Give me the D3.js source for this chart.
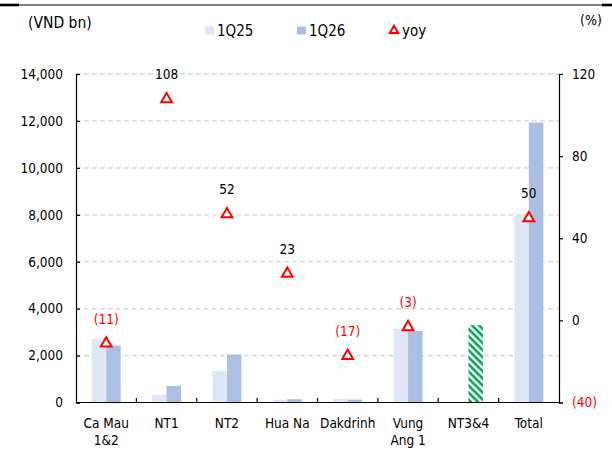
<!DOCTYPE html>
<html>
<head>
<meta charset="utf-8">
<script src="https://cdn.jsdelivr.net/npm/d3@7"></script>
<style>
  html, body { margin: 0; padding: 0; background: #fff; }
  svg { display: block; }
  text { font-family: 'DejaVu Sans Condensed', 'DejaVu Sans', sans-serif; }
</style>
</head>
<body>
<svg id="chart" width="612" height="459"></svg>
<script>
// Plant names (two-line labels split with "\n")
const categories = ["Ca Mau\n1&2", "NT1", "NT2", "Hua Na", "Dakdrinh", "Vung\nAng 1", "NT3&4", "Total"];
// Revenue, VND bn
const q1_25 = [2720, 340, 1350, 115, 150, 3140, null, 7950];
const q1_26 = [2430, 707, 2050, 141, 125, 3050, 3295, 11930];
// Year-on-year change, %
const yoy = [-11, 108, 52, 23, -17, -3, null, 50];
// Axis ticks
const leftTicks = [0, 2000, 4000, 6000, 8000, 10000, 12000, 14000];
const rightTicks = [-40, 0, 40, 80, 120];
const seriesNames = ["1Q25", "1Q26", "yoy"];
// Bars of newly consolidated plants drawn with a hatched fill
const hatched = ["NT3&4"];

const svg = d3.select("#chart");
const W = 612, H = 459;
const plot = { left: 76, right: 559, top: 74, bottom: 402.5 };

const col25 = "#dfe6f5", col26 = "#abbfe3", red = "#ff0000", green = "#00a650";

const x = d3.scaleBand().domain(categories).range([plot.left, plot.right]).padding(0);
const barW = 14.5;
const xSub = d3.scaleBand().domain(["1Q25", "1Q26"]).range([-barW, barW]).padding(0);
const yL = d3.scaleLinear().domain([0, 14000]).range([plot.bottom, plot.top]);
const yR = d3.scaleLinear().domain([-40, 120]).range([plot.bottom, plot.top]);

// hatch pattern (stripes running down to the right)
const defs = svg.append("defs");
const pat = defs.append("pattern").attr("id", "hatch").attr("patternUnits", "userSpaceOnUse")
  .attr("width", 5).attr("height", 5).attr("patternTransform", "rotate(45)");
pat.append("rect").attr("width", 5).attr("height", 5).attr("fill", "#fff");
pat.append("rect").attr("x", 0).attr("y", 0).attr("width", 5).attr("height", 2.6).attr("fill", green);

// top rule
svg.append("line").attr("x1", 0).attr("x2", W).attr("y1", 5).attr("y2", 5)
  .attr("stroke", "#000").attr("stroke-width", 1.2);
svg.append("line").attr("x1", 0).attr("x2", 19).attr("y1", 5).attr("y2", 5)
  .attr("stroke", "#000").attr("stroke-width", 2.6);
svg.append("line").attr("x1", 602).attr("x2", W).attr("y1", 5).attr("y2", 5)
  .attr("stroke", "#000").attr("stroke-width", 2.6);

// gridlines
svg.append("g").selectAll("line").data(leftTicks.filter(d => d > 0)).join("line")
  .attr("x1", plot.left).attr("x2", plot.right)
  .attr("y1", d => yL(d)).attr("y2", d => yL(d))
  .attr("stroke", "#d4d4d4").attr("stroke-width", 1.3).attr("stroke-dasharray", "5,3");

// bars
const rows = categories.map((c, i) => ({ c, v25: q1_25[i], v26: q1_26[i], yoy: yoy[i] }));
const g = svg.append("g");
rows.forEach(r => {
  const cx = x(r.c) + x.bandwidth() / 2;
  if (r.v25 != null) {
    g.append("rect").attr("x", cx + xSub("1Q25")).attr("width", xSub.bandwidth())
      .attr("y", yL(r.v25)).attr("height", yL(0) - yL(r.v25)).attr("fill", col25);
  }
  if (r.v26 != null) {
    g.append("rect").attr("x", cx + xSub("1Q26")).attr("width", xSub.bandwidth())
      .attr("y", yL(r.v26)).attr("height", yL(0) - yL(r.v26))
      .attr("fill", hatched.includes(r.c) ? "url(#hatch)" : col26);
  }
});

// axes
const axL = svg.append("g").attr("transform", `translate(${plot.left},0)`)
  .call(d3.axisLeft(yL).tickValues(leftTicks).tickSize(-4).tickPadding(13).tickFormat(d3.format(",")));
const axR = svg.append("g").attr("transform", `translate(${plot.right},0)`)
  .call(d3.axisRight(yR).tickValues(rightTicks).tickSize(4).tickPadding(9)
    .tickFormat(d => d < 0 ? `(${Math.abs(d)})` : d));
const axB = svg.append("g").attr("transform", `translate(0,${plot.bottom})`)
  .call(d3.axisBottom(x).tickSize(0).tickFormat(""));
[axL, axR, axB].forEach(a => {
  a.select(".domain").attr("stroke", "#000").attr("stroke-width", 1.2);
  a.selectAll(".tick line").attr("stroke", "#000").attr("stroke-width", 1.2);
  a.selectAll("text").attr("font-size", 13.5).attr("fill", "#000")
    .style("font-family", "'DejaVu Sans Condensed', 'DejaVu Sans', sans-serif");
});
axR.selectAll(".tick text").attr("fill", d => d < 0 ? red : "#000");
// bottom axis: domain only between the two value axes, ticks between categories pointing up
axB.select(".domain").attr("d", `M${plot.left},0H${plot.right}`);
axB.append("g").selectAll("line").data(categories.slice(1)).join("line")
  .attr("x1", d => x(d)).attr("x2", d => x(d)).attr("y1", 0).attr("y2", -4.5)
  .attr("stroke", "#000").attr("stroke-width", 1.2);
// category labels
const lab = svg.append("g");
categories.forEach(c => {
  const t = lab.append("text").attr("x", x(c) + x.bandwidth() / 2).attr("y", 428)
    .attr("text-anchor", "middle").attr("font-size", 13.5).attr("fill", "#000");
  c.split("\n").forEach((ln, k) => {
    t.append("tspan").attr("x", x(c) + x.bandwidth() / 2).attr("dy", k === 0 ? 0 : 17).text(ln);
  });
});

// yoy markers and labels
const tri = d3.symbol().type(d3.symbolTriangle).size(50);
const yy = rows.filter(r => r.yoy != null);
svg.append("g").selectAll("path").data(yy).join("path")
  .attr("d", tri)
  .attr("transform", r => `translate(${x(r.c) + x.bandwidth() / 2},${yR(r.yoy) + 0.5})`)
  .attr("fill", "#fff").attr("stroke", red).attr("stroke-width", 2);
svg.append("g").selectAll("text").data(yy).join("text")
  .attr("x", r => x(r.c) + x.bandwidth() / 2)
  .attr("y", r => yR(r.yoy) - 24)
  .attr("dy", "0.35em")
  .attr("text-anchor", "middle").attr("font-size", 13.5)
  .attr("fill", r => r.yoy < 0 ? red : "#000")
  .text(r => r.yoy < 0 ? `(${Math.abs(r.yoy)})` : r.yoy);

// unit labels
svg.append("text").attr("x", 28).attr("y", 23).attr("dy", "0.35em").attr("font-size", 15.5).text("(VND bn)");
svg.append("text").attr("x", 580).attr("y", 20).attr("dy", "0.35em").attr("font-size", 14).text("(%)");

// legend
const leg = svg.append("g");
const legItems = [
  { name: seriesNames[0], x: 205, type: "sq", color: col25 },
  { name: seriesNames[1], x: 297, type: "sq", color: col26 },
  { name: seriesNames[2], x: 390, type: "tri", color: red }
];
legItems.forEach(it => {
  if (it.type === "sq") {
    leg.append("rect").attr("x", it.x).attr("y", 26.5).attr("width", 9).attr("height", 8).attr("fill", it.color);
  } else {
    leg.append("path").attr("d", d3.symbol().type(d3.symbolTriangle).size(30))
      .attr("transform", `translate(${it.x + 4},${30.5})`)
      .attr("fill", "#fff").attr("stroke", red).attr("stroke-width", 2);
  }
  leg.append("text").attr("x", it.x + 12).attr("y", 31).attr("dy", "0.35em")
    .attr("font-size", 15).text(it.name);
});
</script>
</body>
</html>
